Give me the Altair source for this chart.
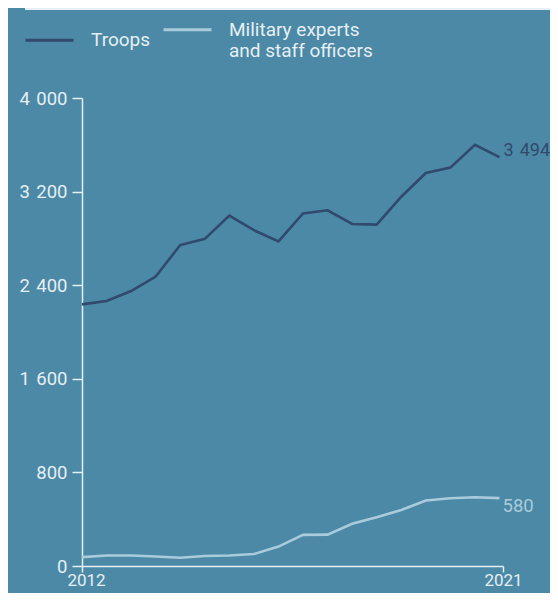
import altair as alt
import pandas as pd

# ---- data ----
years = [2012.0, 2012.525, 2013.05, 2013.575, 2014.1, 2014.625, 2015.15, 2015.675,
         2016.2, 2016.725, 2017.25, 2017.775, 2018.3, 2018.825, 2019.35, 2019.875,
         2020.4, 2020.925]
troops = [2236, 2265, 2350, 2474, 2743, 2796, 2995, 2870, 2774, 3014, 3040, 2923,
          2918, 3156, 3359, 3405, 3600, 3494]
experts = [76, 90, 90, 81, 70, 85, 90, 102, 166, 266, 268, 361, 416, 478, 560, 579,
           588, 580]
series = ["Troops", "Military experts and staff officers"]
y_ticks = [0, 800, 1600, 2400, 3200, 4000]
x_ticks = [2012, 2021]

BG = "#4b89a6"
DARK = "#30496d"
LIGHT = "#a9cbdc"
WHITE = "#e6eff4"
FONT = "Roboto"

rows = []
for yr, v in zip(years, troops):
    rows.append({"year": yr, "value": v, "series": series[0]})
for yr, v in zip(years, experts):
    rows.append({"year": yr, "value": v, "series": series[1]})
df = pd.DataFrame(rows)

last_troops = pd.DataFrame([{"year": years[-1], "value": troops[-1]}])
last_experts = pd.DataFrame([{"year": years[-1], "value": experts[-1]}])

num_fmt = "replace(format(datum.value, ','), ',', '\u2004')"

x_enc = alt.X("year:Q",
              scale=alt.Scale(domain=[2012, 2021], nice=False, zero=False),
              axis=alt.Axis(values=x_ticks, format="d", title=None, grid=False,
                            tickSize=6, labelPadding=0, labelFontSize=17,
                            labelFlush=False,
                            labelOffset={"condition": {"test": "datum.value == 2012", "value": 4},
                                         "value": 0}))
y_enc = alt.Y("value:Q",
              scale=alt.Scale(domain=[0, 4000], nice=False),
              axis=alt.Axis(values=y_ticks, title=None, grid=False, tickSize=10,
                            labelPadding=5, labelFontSize=18.5, labelExpr=num_fmt))

lines = alt.Chart(df).mark_line(strokeWidth=2.6).encode(
    x=x_enc,
    y=y_enc,
    color=alt.Color("series:N",
                    scale=alt.Scale(domain=series, range=[DARK, LIGHT]),
                    sort=series,
                    legend=alt.Legend(
                        title=None, orient="none", direction="horizontal",
                        legendX=-58, legendY=-94,
                        symbolType="stroke", symbolSize=2304, symbolStrokeWidth=3,
                        labelOffset=16, columnPadding=6, labelFontSize=19,
                        labelColor=WHITE, labelFont=FONT, labelLimit=400,
                        labelExpr="datum.label == 'Troops' ? datum.label : ['Military experts', 'and staff officers']")),
    detail="series:N",
)

t1 = alt.Chart(last_troops).transform_calculate(lab=num_fmt).mark_text(
    align="left", baseline="middle", dx=4, dy=-6, fontSize=18, font=FONT, color=DARK
).encode(x="year:Q", y="value:Q", text="lab:N")

t2 = alt.Chart(last_experts).transform_calculate(lab=num_fmt).mark_text(
    align="left", baseline="middle", dx=3, dy=8, fontSize=18.5, font=FONT, color=LIGHT
).encode(x="year:Q", y="value:Q", text="lab:N")

top_rule = alt.Chart(last_troops).mark_rule(color=WHITE, strokeWidth=2).encode(
    x=alt.value(-57), x2=alt.value(480), y=alt.value(-89))

chart = alt.layer(top_rule, lines, t1, t2).properties(
    width=421, height=468,
    autosize=alt.AutoSizeParams(type="none"),
    padding={"left": 74, "top": 90, "right": 47, "bottom": 27},
    background=BG,
).configure_view(stroke=None).configure_axis(
    domainColor=WHITE, tickColor=WHITE, labelColor=WHITE, labelFont=FONT,
    domainWidth=1.5, tickWidth=1.5,
)

chart.save("out.html", embed_options={"renderer": "svg", "actions": False})
